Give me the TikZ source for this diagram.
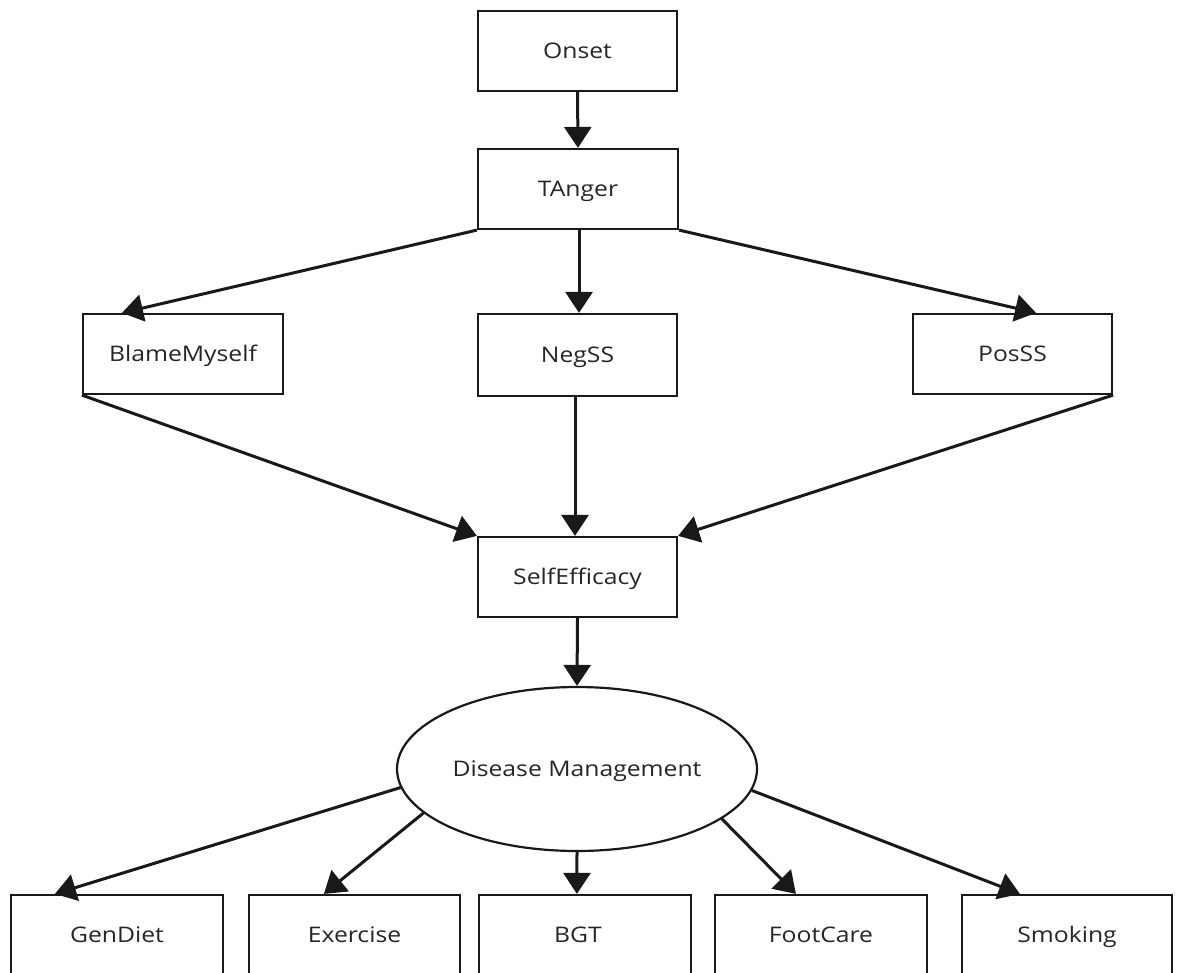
\documentclass[tikz,border=0pt]{standalone}
\usepackage{fontspec}
\setmainfont{Open Sans}[FakeStretch=1.15]
\usetikzlibrary{arrows.meta,shapes.geometric}
\begin{document}
\begin{tikzpicture}[x=1pt,y=-1pt,
  lbl/.style={font=\fontsize{21.5}{24}\selectfont,text=black!85,text height=15pt,text depth=0pt},
  box/.style={lbl,draw=black!90,line width=2.2pt,rectangle,minimum height=80pt,inner sep=0pt},
  oval/.style={lbl,draw=black!90,line width=2.2pt,ellipse,minimum width=360pt,minimum height=164pt,inner sep=0pt},
  arr/.style={line width=3pt,draw=black!90,-{Triangle[length=21pt,width=27pt]}}]
\useasboundingbox (0,0) rectangle (1183,972);
\clip (0,0) rectangle (1183,972);
\fill[white] (0,0) rectangle (1183,972);
\node[box,minimum width=199pt] (onset) at (577.5,51) {Onset};
\node[box,minimum width=200pt] (tanger) at (578,189) {TAnger};
\node[box,minimum width=200pt] (blame) at (183,354) {BlameMyself};
\node[box,minimum width=199pt,minimum height=82pt] (negss) at (577.5,355) {NegSS};
\node[box,minimum width=199pt] (posss) at (1012.5,354) {PosSS};
\node[box,minimum width=199pt] (self) at (577.5,577) {SelfEfficacy};
\node[oval] (dm) at (577,769) {Disease Management};
\node[box,minimum width=212pt] (gendiet) at (117,935) {GenDiet};
\node[box,minimum width=211pt] (exercise) at (354.5,935) {Exercise};
\node[box,minimum width=212pt] (bgt) at (585,935) {};
\node[lbl] (bgtlabel) at (578,935) {BGT};
\node[box,minimum width=212pt] (footcare) at (821,935) {FootCare};
\node[box,minimum width=210pt] (smoking) at (1067,935) {Smoking};
\draw[arr] (onset.south) -- (tanger.north);
\draw[arr] (tanger.south west) -- ([xshift=40pt]blame.north west);
\draw[arr] ([xshift=1pt]tanger.south) -- ([xshift=1.5pt]negss.north);
\draw[arr] (tanger.south east) -- ([xshift=-77pt]posss.north east);
\draw[arr] (blame.south west) -- (self.north west);
\draw[arr] ([xshift=-2.5pt]negss.south) -- ([xshift=-2.5pt]self.north);
\draw[arr] (posss.south east) -- (self.north east);
\draw[arr] (self.south) -- (dm.north);
\draw[arr] (dm.186) -- ([xshift=45pt]gendiet.north west);
\draw[arr] (dm.196) -- ([xshift=76pt]exercise.north west);
\draw[arr] (dm.south) -- ([xshift=99pt]bgt.north west);
\draw[arr] (dm.341) -- ([xshift=82pt]footcare.north west);
\draw[arr] (dm.353) -- ([xshift=59pt]smoking.north west);
\end{tikzpicture}
\end{document}
